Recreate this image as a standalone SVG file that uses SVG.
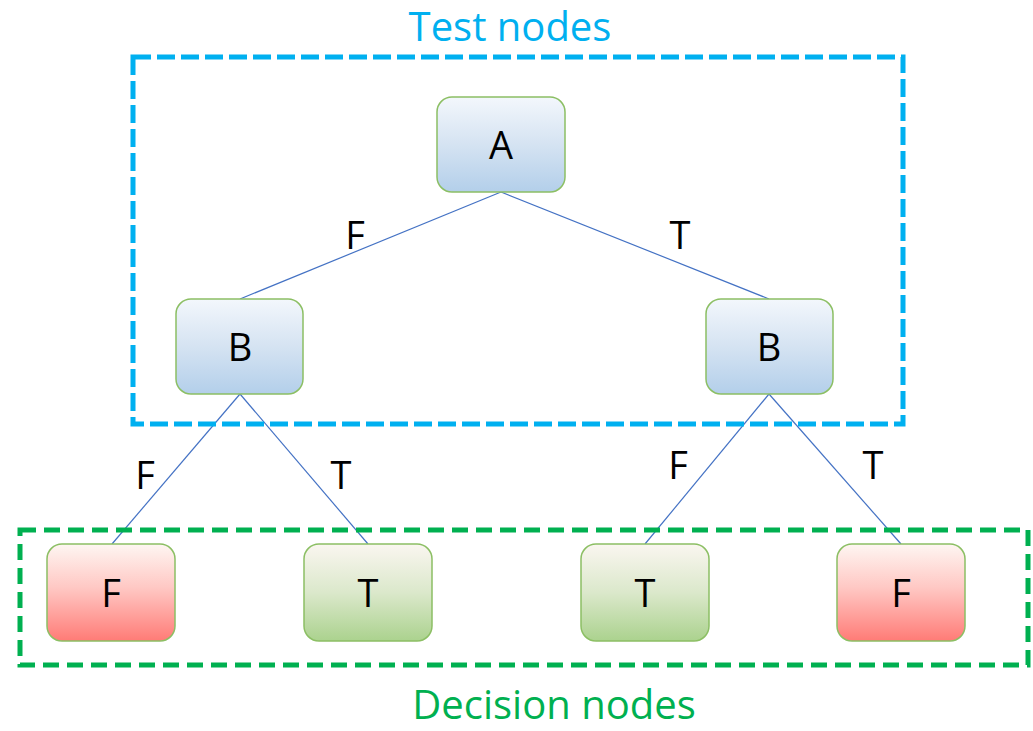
<svg xmlns="http://www.w3.org/2000/svg" width="1033" height="731" viewBox="0 0 1033 731">
<defs>
<linearGradient id="gBlue" x1="0" y1="0" x2="0" y2="1">
<stop offset="0" stop-color="#F3F7FC"/><stop offset="0.5" stop-color="#D5E3F2"/><stop offset="1" stop-color="#B3CFEA"/>
</linearGradient>
<linearGradient id="gRed" x1="0" y1="0" x2="0" y2="1">
<stop offset="0" stop-color="#FEF6F2"/><stop offset="0.45" stop-color="#FFC8C4"/><stop offset="1" stop-color="#FF7B76"/>
</linearGradient>
<linearGradient id="gGreen" x1="0" y1="0" x2="0" y2="1">
<stop offset="0" stop-color="#FAF6F0"/><stop offset="0.5" stop-color="#DBE8CB"/><stop offset="1" stop-color="#ABD28E"/>
</linearGradient>
</defs>
<style>
.node rect{stroke:#8CBF64;stroke-width:1.5}
.lbl{font-family:"Open Sans","Liberation Sans",sans-serif;font-size:38px;fill:#000;text-anchor:middle}
.edge{stroke:#4472C4;stroke-width:1.2;fill:none}
.title{font-family:"Open Sans","Liberation Sans",sans-serif;font-size:40px;text-anchor:middle}
</style>
<rect width="1033" height="731" fill="#fff"/>
<g id="connectors">
<line class="edge" x1="501" y1="192" x2="240" y2="299"/>
<line class="edge" x1="501" y1="192" x2="769" y2="299"/>
<line class="edge" x1="240" y1="394" x2="112" y2="544"/>
<line class="edge" x1="240" y1="394" x2="368" y2="544"/>
<line class="edge" x1="769" y1="394" x2="645" y2="544"/>
<line class="edge" x1="769" y1="394" x2="901" y2="544"/>
<text class="lbl" x="355" y="249">F</text>
<text class="lbl" x="680" y="249">T</text>
<text class="lbl" x="145" y="489">F</text>
<text class="lbl" x="341" y="489">T</text>
<text class="lbl" x="678" y="479">F</text>
<text class="lbl" x="873" y="479">T</text>
</g>
<g id="testGroup">
<rect x="133" y="57" width="770" height="367" fill="none" stroke="#00B0F0" stroke-width="5" stroke-dasharray="18 6"/>
<text class="title" x="510" y="41" fill="#00B0F0">Test nodes</text>
</g>
<g id="decisionGroup">
<rect x="20" y="530" width="1008" height="135" fill="none" stroke="#00B050" stroke-width="5" stroke-dasharray="16 8"/>
<text class="title" x="554" y="719" fill="#00B050">Decision nodes</text>
</g>
<g id="nodeA" class="node"><rect x="437" y="97" width="128" height="95" rx="15" fill="url(#gBlue)"/><text class="lbl" x="501" y="159">A</text></g>
<g id="nodeBL" class="node"><rect x="176" y="299" width="127" height="95" rx="15" fill="url(#gBlue)"/><text class="lbl" x="240" y="361">B</text></g>
<g id="nodeBR" class="node"><rect x="706" y="299" width="127" height="95" rx="15" fill="url(#gBlue)"/><text class="lbl" x="769" y="361">B</text></g>
<g id="leafF1" class="node"><rect x="47" y="544" width="128" height="97" rx="15" fill="url(#gRed)"/><text class="lbl" x="111" y="607">F</text></g>
<g id="leafT1" class="node"><rect x="304" y="544" width="128" height="97" rx="15" fill="url(#gGreen)"/><text class="lbl" x="368" y="607">T</text></g>
<g id="leafT2" class="node"><rect x="581" y="544" width="128" height="97" rx="15" fill="url(#gGreen)"/><text class="lbl" x="645" y="607">T</text></g>
<g id="leafF2" class="node"><rect x="837" y="544" width="128" height="97" rx="15" fill="url(#gRed)"/><text class="lbl" x="901" y="607">F</text></g>
</svg>
